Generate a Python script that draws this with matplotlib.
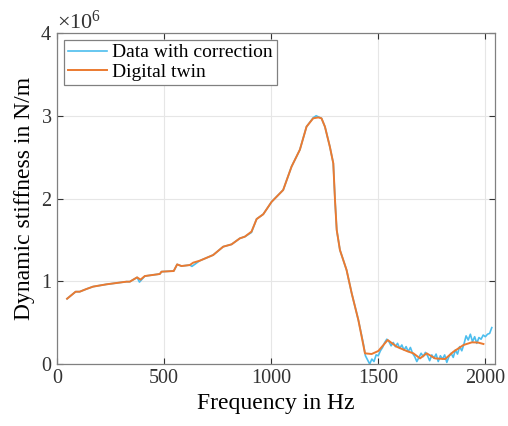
import numpy as np
import matplotlib
matplotlib.use('Agg')
from matplotlib import pyplot as plt
from matplotlib.ticker import ScalarFormatter

# digital twin curve (Hz, N/m in 1e6)
freq_twin = [47, 87, 106, 137, 168, 231, 324, 340, 374, 390, 410, 480, 488, 545, 561,
             581, 620, 636, 667, 729, 776, 815, 854, 877, 908, 924, 932, 963, 1002,
             1056, 1095, 1134, 1165, 1196, 1220, 1235, 1251, 1274, 1290, 1298, 1306,
             1321, 1352, 1376, 1407, 1438, 1469, 1500, 1544, 1586, 1633, 1664, 1695,
             1726, 1765, 1812, 1851, 1898, 1937, 1965, 1991]
stiff_twin = [0.789, 0.874, 0.874, 0.906, 0.935, 0.963, 0.995, 0.995, 1.047, 1.020,
              1.063, 1.088, 1.116, 1.124, 1.204, 1.184, 1.196, 1.225, 1.249, 1.317,
              1.418, 1.446, 1.519, 1.539, 1.600, 1.700, 1.752, 1.810, 1.960, 2.103,
              2.385, 2.590, 2.868, 2.969, 2.980, 2.969, 2.868, 2.626, 2.425, 1.980,
              1.620, 1.378, 1.136, 0.854, 0.532, 0.129, 0.121, 0.157, 0.290, 0.209,
              0.157, 0.129, 0.068, 0.129, 0.068, 0.060, 0.149, 0.230, 0.262, 0.260,
              0.242]

# measured data with correction
freq_data = [47, 87, 106, 137, 168, 231, 324, 340, 374, 385, 410, 480, 488, 545, 561,
             581, 620, 630, 667, 729, 776, 815, 854, 877, 908, 924, 932, 963, 1002,
             1056, 1095, 1134, 1165, 1196, 1210, 1235, 1251, 1274, 1290, 1298, 1306,
             1321, 1352, 1376, 1407, 1430,
             1440, 1450, 1460, 1470, 1480, 1490, 1500, 1510, 1520, 1530, 1540, 1550,
             1560, 1570, 1580, 1590, 1600, 1610, 1620, 1630, 1640, 1650, 1660, 1670,
             1680, 1690, 1700, 1710, 1720, 1730, 1740, 1750, 1760, 1770, 1780, 1790,
             1800, 1810, 1820, 1830, 1840, 1850, 1860, 1870, 1880, 1890, 1900, 1910,
             1920, 1930, 1940, 1950, 1960, 1970, 1980, 1990, 2000, 2010, 2020, 2030]
stiff_data = [0.789, 0.874, 0.874, 0.906, 0.935, 0.963, 0.995, 0.995, 1.047, 0.990,
              1.063, 1.088, 1.116, 1.124, 1.204, 1.184, 1.196, 1.180, 1.249, 1.317,
              1.418, 1.446, 1.519, 1.539, 1.590, 1.700, 1.752, 1.810, 1.960, 2.103,
              2.385, 2.590, 2.868, 2.975, 3.000, 2.969, 2.868, 2.626, 2.425, 1.980,
              1.620, 1.378, 1.136, 0.854, 0.532, 0.250,
              0.10, 0.05, 0.00, 0.06, 0.03, 0.11, 0.10, 0.16, 0.20, 0.26, 0.30, 0.27,
              0.22, 0.26, 0.21, 0.25, 0.19, 0.23, 0.17, 0.21, 0.15, 0.20, 0.13, 0.09,
              0.03, 0.08, 0.13, 0.09, 0.14, 0.10, 0.04, 0.11, 0.07, 0.12, 0.03, 0.10,
              0.06, 0.11, 0.02, 0.09, 0.13, 0.08, 0.17, 0.12, 0.21, 0.16, 0.24, 0.34,
              0.29, 0.36, 0.27, 0.33, 0.25, 0.32, 0.30, 0.35, 0.33, 0.36, 0.37, 0.44]

plt.rcParams['font.family'] = ['Liberation Serif', 'DejaVu Serif']
plt.rcParams['mathtext.fontset'] = 'custom'
plt.rcParams['mathtext.rm'] = 'Liberation Serif'
plt.rcParams['mathtext.it'] = 'Liberation Serif:italic'

fig = plt.figure(figsize=(5.08, 4.26), dpi=100)
ax = fig.add_axes([0.1122, 0.1455, 0.8622, 0.777])

ax.plot(freq_data, np.array(stiff_data) * 1e6, color='#4DBEEE', lw=1.2,
        label='Data with correction')
ax.plot(freq_twin, np.array(stiff_twin) * 1e6, color='#EB7A30', lw=1.4,
        label='Digital twin')

ax.set_xlim(0, 2045)
ax.set_ylim(0, 4e6)
ax.set_xticks([0, 500, 1000, 1500, 2000])
ax.set_yticks([0, 1e6, 2e6, 3e6, 4e6])
fmt = ScalarFormatter(useMathText=True)
fmt.set_powerlimits((0, 0))
ax.yaxis.set_major_formatter(fmt)
ax.yaxis.get_offset_text().set_fontsize(16)
ax.yaxis.get_offset_text().set_color('#333333')

ax.grid(True, color='#E6E6E6', lw=0.8)
ax.set_axisbelow(True)
ax.tick_params(direction='in', top=True, right=True, labelsize=14.5,
               colors='#333333', length=4, width=0.8)
for s in ax.spines.values():
    s.set_color('#808080')
    s.set_linewidth(0.9)

ax.set_xlabel('Frequency in Hz', fontsize=17, labelpad=4)
ax.set_ylabel('Dynamic stiffness in N/m', fontsize=17, labelpad=4)

leg = ax.legend(loc='upper left', fontsize=14, fancybox=False, framealpha=1,
                edgecolor='#808080', handlelength=2.0, handletextpad=0.3,
                borderpad=0.2, labelspacing=0.1, borderaxespad=0.35)
leg.get_frame().set_linewidth(0.9)

plt.savefig('out.png', dpi=100)
